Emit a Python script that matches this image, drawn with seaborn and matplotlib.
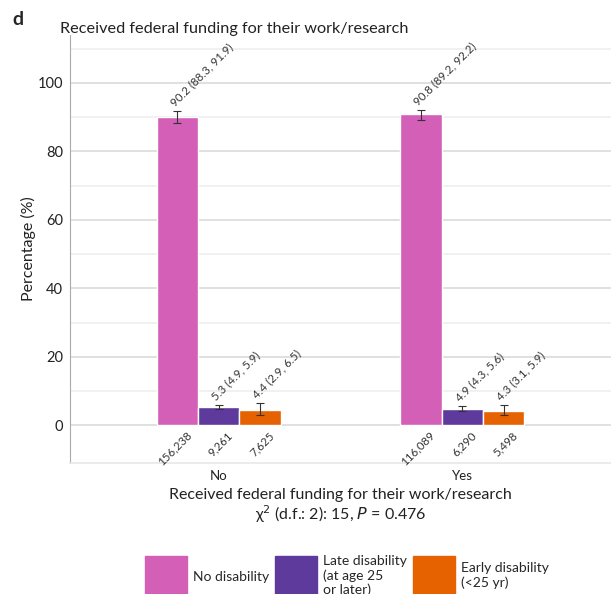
import numpy as np
import pandas as pd
import matplotlib
matplotlib.use("Agg")
import matplotlib.pyplot as plt
import seaborn as sns

# data
funding = ["No", "Yes"]
groups = ["No disability", "Late disability\n(at age 25\nor later)", "Early disability\n(<25 yr)"]
pct = [[90.2, 5.3, 4.4], [90.8, 4.9, 4.3]]
ci_lo = [[88.3, 4.9, 2.9], [89.2, 4.3, 3.1]]
ci_hi = [[91.9, 5.9, 6.5], [92.2, 5.6, 5.9]]
counts = [["156,238", "9,261", "7,625"], ["116,089", "6,290", "5,498"]]
colors = ["#D35FB7", "#5D3A9B", "#E66100"]

sns.set_style("white")
plt.rcParams["font.family"] = ["Lato", "DejaVu Sans"]

rows = []
for i, f in enumerate(funding):
    for j, g in enumerate(groups):
        rows.append({"funding": f, "group": g, "pct": pct[i][j],
                     "lo": ci_lo[i][j], "hi": ci_hi[i][j], "n": counts[i][j]})
df = pd.DataFrame(rows)

fig = plt.figure(figsize=(6.11, 5.94), dpi=100)
ax = fig.add_axes([0.1146, 0.2205, 0.8854, 0.7205])

sns.barplot(data=df, x="funding", y="pct", hue="group", hue_order=groups,
            palette=colors, errorbar=None, width=0.51, saturation=1,
            legend=False, ax=ax)

# bars are drawn hue by hue, so walk them in that order
for j, g in enumerate(groups):
    for i, f in enumerate(funding):
        p = ax.patches[j * len(funding) + i]
        xc = p.get_x() + p.get_width() / 2
        r = df[(df.funding == f) & (df.group == g)].iloc[0]
        ax.errorbar(xc, r.pct, yerr=[[r.pct - r.lo], [r.hi - r.pct]],
                    fmt="none", ecolor="#333333", elinewidth=0.8, capsize=3, capthick=0.8)
        ax.annotate(f"{r.pct:.1f} ({r.lo:.1f}, {r.hi:.1f})", (xc, r.hi),
                    xytext=(-1, 2), textcoords="offset points",
                    rotation=45, rotation_mode="anchor", ha="left", va="bottom",
                    fontsize=8.3, color="#333333")
        ax.annotate(r.n, (xc, 0), xytext=(6, -3), textcoords="offset points",
                    rotation=45, rotation_mode="anchor", ha="right", va="top",
                    fontsize=8.3, color="#333333")

ax.set_xlim(-0.61, 1.61)
ax.set_ylim(-11, 114)
ax.set_yticks(np.arange(0, 101, 20))
ax.set_yticks(np.arange(10, 111, 20), minor=True)
ax.grid(True, axis="y", which="major", color="#e0e0e0", linewidth=1.4)
ax.grid(True, axis="y", which="minor", color="#efefef", linewidth=1.2)
ax.set_axisbelow(True)
for s in ["top", "right"]:
    ax.spines[s].set_visible(False)
ax.spines["left"].set_color("#aaaaaa")
ax.spines["bottom"].set_color("#e8e8e8")
ax.spines["bottom"].set_linewidth(1.2)
ax.tick_params(axis="x", length=0, labelsize=9.5, colors="#222222", pad=5)
ax.tick_params(axis="y", which="major", length=3, width=0.8, color="#999999",
               labelsize=10.5, labelcolor="#222222", pad=2)
ax.tick_params(axis="y", which="minor", length=0)

ax.set_ylabel("Percentage (%)", fontsize=11.5, color="#222222", labelpad=1)
ax.set_xlabel("Received federal funding for their work/research\n"
              "χ$^{2}$ (d.f.: 2): 15, $\\it{P}$ = 0.476",
              fontsize=11.5, color="#222222", labelpad=4, linespacing=1.1)

fig.text(0.02, 0.968, "d", fontsize=14, fontweight="bold", va="center")
fig.text(0.098, 0.952, "Received federal funding for their work/research",
         fontsize=11.7, color="#222222", va="center")

# legend sits partly below the figure edge, as in the source panel
handles = [plt.Rectangle((0, 0), 1, 1, color=c) for c in colors]
fig.legend(handles, groups, loc="upper center", bbox_to_anchor=(0.568, 0.075),
           ncol=3, frameon=False, fontsize=10, handlelength=3.0, handleheight=4.27,
           handletextpad=0.45, columnspacing=0.45, borderaxespad=0, labelspacing=0.2)

fig.savefig("out.png", dpi=100)
